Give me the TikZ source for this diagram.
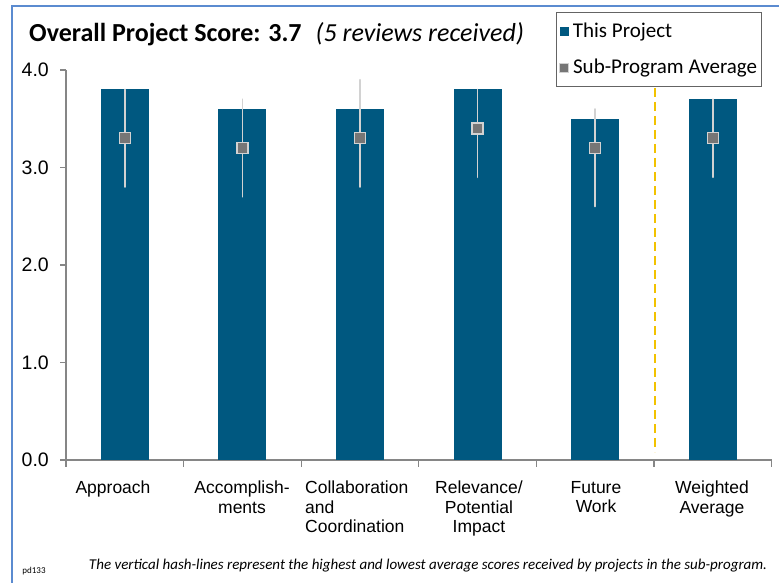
\documentclass[tikz,border=0pt]{standalone}
\usepackage{fontspec}
\setmainfont{Carlito}
\newfontfamily\arialfont{Liberation Sans}
\usetikzlibrary{positioning}

\definecolor{barblue}{RGB}{0,88,128}
\definecolor{frameblue}{RGB}{91,139,208}
\definecolor{markgray}{RGB}{118,118,118}
\definecolor{whiskgray}{RGB}{210,210,210}
\definecolor{axisgray}{RGB}{134,134,134}
\definecolor{legendgray}{RGB}{100,100,100}
\definecolor{dashgold}{RGB}{242,194,0}

\begin{document}
\begin{tikzpicture}[x=1pt,y=-1pt,
  bar/.style={fill=barblue,draw=none},
  whisker/.style={draw=whiskgray,line width=1.6pt,line cap=round},
  avgmark/.style={rectangle,fill=markgray,draw=whiskgray,line width=1.4pt,
    minimum size=11pt,inner sep=0pt},
  catlabel/.style={font=\arialfont\fontsize{17.5}{19.5}\selectfont,align=center,
    anchor=north,inner sep=0pt},
  ylab/.style={font=\arialfont\fontsize{19.5}{20}\selectfont,anchor=east,inner sep=0pt},
  legmark/.style={rectangle,minimum size=9pt,inner sep=0pt},
  legtext/.style={font=\fontsize{21}{24}\selectfont,inner sep=0pt,anchor=west}]
  \useasboundingbox (0,0) rectangle (779,583);

  % frame
  \draw[frameblue,line width=2pt] (12,583) -- (12,6) -- (779,6);

  % title
  \node[anchor=base west,inner sep=0pt,font=\fontsize{26}{30}\selectfont] (title)
    at (29,42) {\textbf{Overall Project Score: 3.7}\hspace{14pt}\textit{(5 reviews received)}};

  % legend
  \node[draw=legendgray,line width=1pt,minimum width=205pt,minimum height=74pt,
    inner sep=0pt] (legend) at (658.5,50) {};
  \node[legmark,fill=barblue] (lgbar) at (564,32) {};
  \node[legtext,right=4pt of lgbar] (lgbartxt) {This Project};
  \node[legmark,fill=markgray,draw=whiskgray,line width=0.8pt] (lgavg) at (564,68) {};
  \node[legtext,right=4pt of lgavg] (lgavgtxt) {Sub-Program Average};

  % axes
  \draw[axisgray,line width=1.2pt] (66,70) -- (66,460) -- (771.6,460);
  \foreach \y/\t in {70/4.0,167.5/3.0,265/2.0,362.5/1.0,460/0.0} {
    \draw[axisgray,line width=1.2pt] (60,\y) -- (66,\y);
    \node[ylab] (y\t) at (49,\y) {\t};
  }
  \foreach \k in {0,...,6}
    \draw[axisgray,line width=1.2pt] ({66+117.6*\k},460) -- ({66+117.6*\k},467);

  % separator before weighted average
  \draw[dashgold,line width=2.2pt,dash pattern=on 9pt off 5pt] (655,88) -- (655,452);

  % bars, whiskers and sub-program averages
  \begin{scope}[shift={(66,460)},x=117.6pt,y=97.5pt]
    \foreach \i/\v/\a/\lo/\hi in {1/3.8/3.3/2.8/3.8,2/3.6/3.2/2.7/3.7,3/3.6/3.3/2.8/3.9,
                                   4/3.8/3.4/2.9/3.8,5/3.5/3.2/2.6/3.6,6/3.7/3.3/2.9/3.7} {
      \fill[bar] ({\i-0.704},0) rectangle ({\i-0.296},\v);
      \draw[whisker] ({\i-0.5},\lo) -- ({\i-0.5},\hi);
      \node[avgmark] (avg\i) at ({\i-0.5},\a) {};
    }
  \end{scope}

  % category labels
  \node[catlabel] (cat1) at (113,481) {Approach};
  \node[catlabel] (cat2) at (242,481) {Accomplish-\\ments};
  \node[catlabel,anchor=north west,align=left] (cat3) at (305,481) {Collaboration\\and\\Coordination};
  \node[catlabel] (cat4) at (479,481) {Relevance/\\Potential\\Impact};
  \node[catlabel] (cat5) at (596,481) {Future\\Work};
  \node[catlabel] (cat6) at (712,481) {Weighted\\Average};

  % footnote
  \node[font=\fontsize{9}{10}\selectfont,inner sep=0pt] (code) at (34,571) {pd133};
  \node[font=\itshape\fontsize{15}{17}\selectfont,inner sep=0pt] (note) at (428,566)
    {The vertical hash-lines represent the highest and lowest average scores received by projects in the sub-program.};
\end{tikzpicture}
\end{document}
